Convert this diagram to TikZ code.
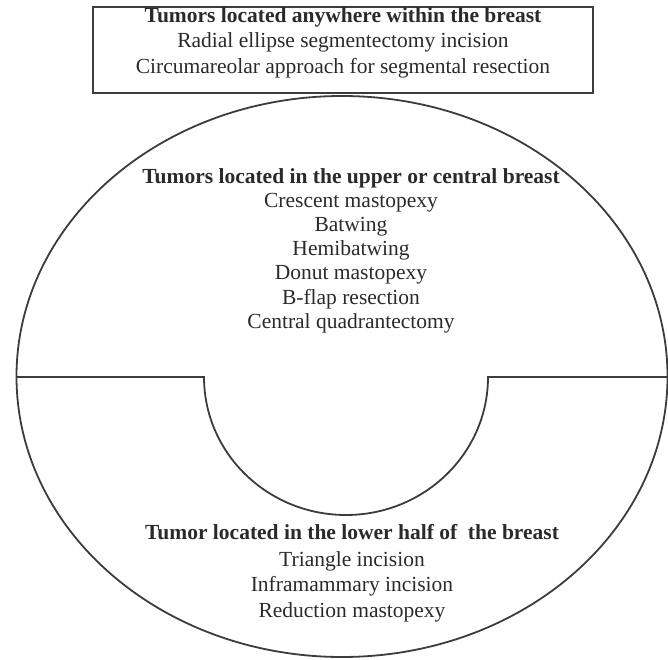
\documentclass[tikz,border=0pt]{standalone}
\usepackage{fontspec}
\setmainfont{Liberation Serif}
\definecolor{linegray}{HTML}{3C3C3C}
\definecolor{textgray}{HTML}{2A2A2A}
\begin{document}
\begin{tikzpicture}[x=1pt,y=1pt,
  outline/.style={draw=linegray,line width=1.8pt},
  txt/.style={text=textgray,align=center,inner sep=0pt,
    font=\fontsize{21.5}{25.5}\selectfont},
  hd/.style={font=\bfseries}]
\useasboundingbox (0,0) rectangle (668,659);
% top box
\node[outline,minimum width=500pt,minimum height=86pt,inner sep=0pt] (box) at (343,609) {};
\node[txt] (t1) at (343,616.5) {\textbf{Tumors located anywhere within the breast}\\
Radial ellipse segmentectomy incision\\
Circumareolar approach for segmental resection};
% ellipse
\draw[outline] (342,282.5) ellipse[x radius=325.5pt,y radius=280.5pt];
\coordinate (dl) at (16.5,282);
\coordinate (dr) at (667.5,282);
\coordinate (sl) at (204,282);
\draw[outline,line join=miter] (dl) -- (sl) arc[start angle=180,end angle=360,x radius=142pt,y radius=138pt] -- (dr);
% upper text
\node[txt,font=\fontsize{21.5}{24.2}\selectfont] (t2) at (351,408.5) {\textbf{Tumors located in the upper or central breast}\\
Crescent mastopexy\\
Batwing\\
Hemibatwing\\
Donut mastopexy\\
B-flap resection\\
Central quadrantectomy};
% lower text
\node[txt] (t3) at (352,86) {\textbf{Tumor located in the lower half of~ the breast}\\[1.5pt]
Triangle incision\\
Inframammary incision\\
Reduction mastopexy};
\end{tikzpicture}
\end{document}
